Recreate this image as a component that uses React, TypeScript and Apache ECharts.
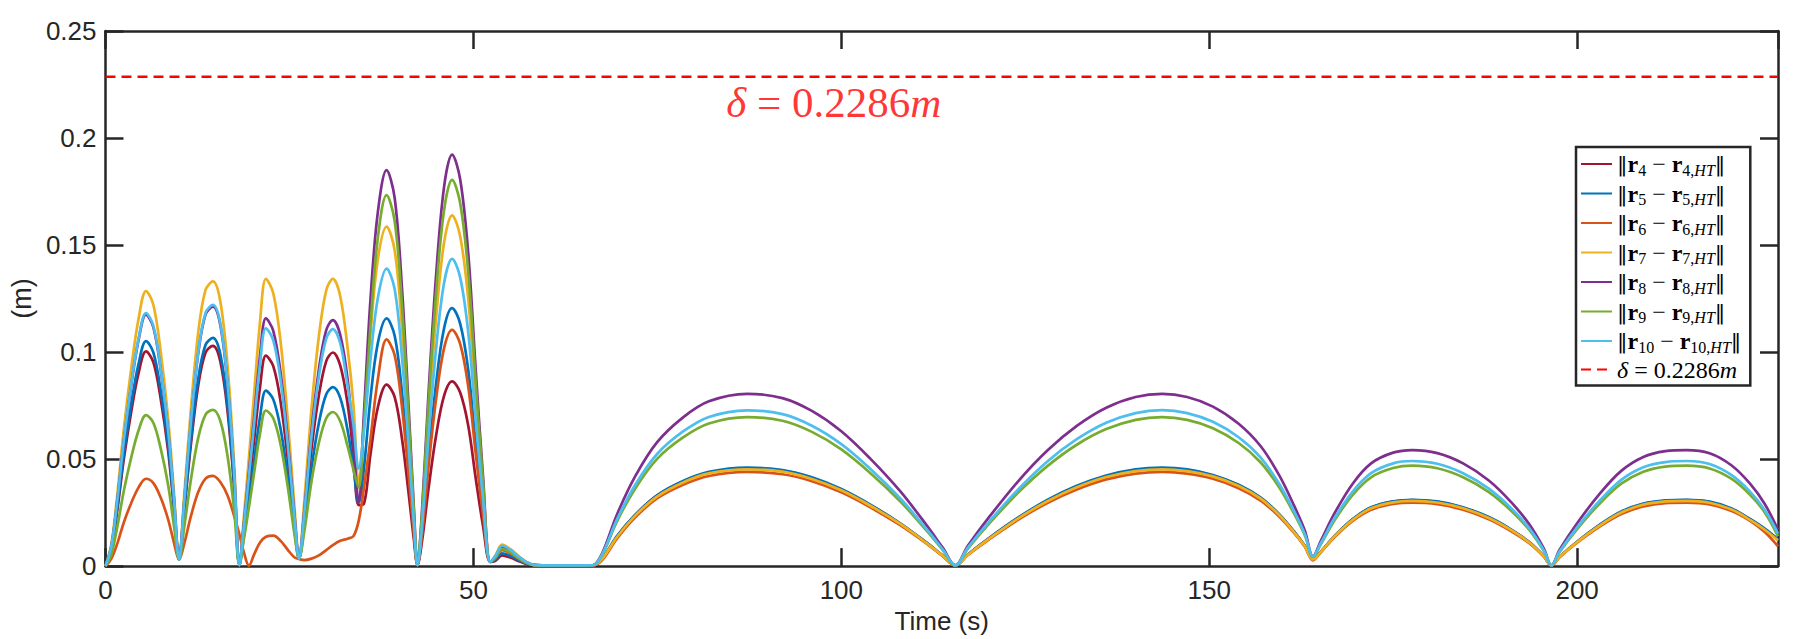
import React, { useEffect, useRef } from "react";
import * as echarts from "echarts";

// ---------- data ----------
const time = [
  0, 0.8, 1.6, 2.5, 3.5, 4.5, 5.5, 6.5, 7.5, 8.5, 9.3, 10.0,
  10.7, 11.6, 12.6, 13.6, 14.6, 15.6, 16.6, 17.5, 18.2,
  18.8, 19.5, 20.2, 21.0, 21.8, 22.8, 23.8, 24.8, 25.7, 26.3,
  27.0, 28.0, 29.0, 30.0, 30.9, 31.9, 32.9, 33.7, 34.4,
  35.1, 36.0, 37.0, 38.2, 39.3, 40.3, 41.2, 41.9, 42.4,
  43.0, 43.9, 44.9, 46.0, 47.1, 48.2, 49.3, 50.3, 51.3, 52.3,
  53.0, 53.9, 55.0, 56.2, 57.2, 58.2, 61.0, 64.0,
  66.2, 67.5, 69.5, 72, 75, 78.5, 82, 87.2, 92, 96, 100, 104, 108, 111.5, 113.8, 115.5,
  117.2, 120, 124, 128, 132, 136, 140, 143.6, 147, 150.5, 154, 157, 159.5, 161.5, 163, 164.1,
  165.2, 167, 169.5, 172, 175, 177.6, 181, 184.5, 188, 191, 193.5, 195.5, 196.5,
  197.6, 200, 203, 206, 209, 212, 214.9, 218, 221, 223.5, 225.5, 227.3,
];

const r4 = [
  0, 0.008, 0.0261, 0.0502, 0.0722, 0.0903, 0.1003, 0.0953, 0.0782, 0.0542, 0.0271, 0.003,
  0.0257, 0.0566, 0.0844, 0.0998, 0.1029, 0.0957, 0.072, 0.036, 0.0005,
  0.0167, 0.0374, 0.059, 0.0836, 0.0983, 0.0934, 0.0767, 0.0492, 0.0197, 0.0035,
  0.022, 0.0549, 0.0798, 0.0958, 0.0998, 0.0938, 0.0758, 0.052, 0.0285,
  0.029, 0.052, 0.074, 0.0848, 0.0789, 0.0594, 0.0339, 0.0127, 0.0005,
  0.0112, 0.0362, 0.0604, 0.0794, 0.0863, 0.0811, 0.0656, 0.0414, 0.019, 0.002,
  0.0025, 0.005, 0.004, 0.0023, 0.001, 0.0005, 0.0003, 0.0003,
  0.0004, 0.0034, 0.0136, 0.0239, 0.033, 0.0395, 0.0437, 0.0457, 0.0446, 0.0412, 0.0358, 0.0284, 0.0199, 0.0111, 0.0048, 0.0003,
  0.0054, 0.0128, 0.0224, 0.0307, 0.0372, 0.042, 0.0449, 0.0457, 0.0449, 0.0423, 0.0378, 0.0318, 0.0241, 0.0162, 0.0094, 0.0032,
  0.0068, 0.0139, 0.0219, 0.0273, 0.0301, 0.0308, 0.03, 0.0273, 0.0227, 0.017, 0.0111, 0.0045, 0.0003,
  0.0043, 0.0114, 0.019, 0.0253, 0.029, 0.0305, 0.0308, 0.0299, 0.0267, 0.0219, 0.0172, 0.0122,
];

const r5 = [
  0, 0.0084, 0.0273, 0.0526, 0.0757, 0.0946, 0.1051, 0.0998, 0.082, 0.0568, 0.0284, 0.003,
  0.0267, 0.0586, 0.0874, 0.1034, 0.1066, 0.0991, 0.0746, 0.0373, 0.0005,
  0.0139, 0.0312, 0.0492, 0.0697, 0.082, 0.0779, 0.064, 0.041, 0.0164, 0.0035,
  0.0184, 0.046, 0.0669, 0.0803, 0.0836, 0.0786, 0.0635, 0.046, 0.0295,
  0.045, 0.078, 0.104, 0.1157, 0.1076, 0.081, 0.0463, 0.0174, 0.0005,
  0.0157, 0.0506, 0.0844, 0.1109, 0.1205, 0.1133, 0.0916, 0.0578, 0.0265, 0.002,
  0.003, 0.006, 0.0048, 0.0027, 0.0012, 0.0005, 0.0003, 0.0003,
  0.0004, 0.0034, 0.014, 0.024, 0.0332, 0.0398, 0.044, 0.046, 0.0449, 0.0415, 0.036, 0.0286, 0.02, 0.0112, 0.0049, 0.0003,
  0.0054, 0.0129, 0.0226, 0.0309, 0.0375, 0.0423, 0.0452, 0.046, 0.0452, 0.0426, 0.038, 0.032, 0.0243, 0.0163, 0.0094, 0.0032,
  0.0069, 0.014, 0.022, 0.0275, 0.0303, 0.031, 0.0302, 0.0275, 0.0229, 0.0172, 0.0112, 0.0046, 0.0003,
  0.0043, 0.0114, 0.0192, 0.0255, 0.0292, 0.0307, 0.031, 0.0301, 0.0269, 0.022, 0.0175, 0.0125,
];

const r6 = [
  0, 0.0035, 0.0105, 0.0205, 0.0295, 0.0368, 0.0408, 0.0388, 0.032, 0.022, 0.011, 0.003,
  0.0105, 0.0232, 0.0346, 0.0409, 0.0422, 0.0393, 0.0329, 0.0232, 0.0148,
  0.0065, 0.0002, 0.0055, 0.011, 0.0137, 0.0142, 0.0118, 0.0075, 0.004, 0.0033,
  0.0028, 0.0035, 0.005, 0.0075, 0.0098, 0.0118, 0.0128, 0.014, 0.021,
  0.036, 0.059, 0.087, 0.1059, 0.0985, 0.0741, 0.0424, 0.0159, 0.0005,
  0.0144, 0.0464, 0.0773, 0.1016, 0.1104, 0.1038, 0.0839, 0.053, 0.0243, 0.002,
  0.004, 0.0075, 0.006, 0.0034, 0.0015, 0.0005, 0.0003, 0.0003,
  0.0003, 0.0028, 0.0128, 0.0228, 0.0317, 0.038, 0.0421, 0.044, 0.0429, 0.0397, 0.0345, 0.0274, 0.0191, 0.0107, 0.0046, 0.0003,
  0.0052, 0.0123, 0.0216, 0.0295, 0.0358, 0.0405, 0.0432, 0.044, 0.0432, 0.0408, 0.0364, 0.0306, 0.0232, 0.0156, 0.009, 0.0027,
  0.0066, 0.0134, 0.0211, 0.0263, 0.029, 0.0296, 0.0289, 0.0263, 0.0219, 0.0164, 0.0107, 0.0044, 0.0003,
  0.0041, 0.0109, 0.0183, 0.0243, 0.0279, 0.0294, 0.0296, 0.0288, 0.0257, 0.0211, 0.0159, 0.0092,
];

const r7 = [
  0, 0.0103, 0.0334, 0.0643, 0.0925, 0.1157, 0.1285, 0.1221, 0.1002, 0.0694, 0.0347, 0.003,
  0.0333, 0.0732, 0.1091, 0.129, 0.133, 0.1237, 0.0931, 0.0466, 0.0005,
  0.0228, 0.051, 0.0805, 0.1141, 0.1342, 0.1275, 0.1047, 0.0671, 0.0268, 0.0035,
  0.0295, 0.0738, 0.1074, 0.1288, 0.1342, 0.1261, 0.102, 0.075, 0.038,
  0.066, 0.108, 0.143, 0.1586, 0.1475, 0.111, 0.0634, 0.0238, 0.0005,
  0.0213, 0.0688, 0.1147, 0.1508, 0.1639, 0.1541, 0.1246, 0.0787, 0.0361, 0.002,
  0.005, 0.01, 0.008, 0.0045, 0.002, 0.0006, 0.0003, 0.0003,
  0.0004, 0.0034, 0.0135, 0.0236, 0.0326, 0.0391, 0.0433, 0.0452, 0.0441, 0.0407, 0.0354, 0.0281, 0.0197, 0.011, 0.0048, 0.0003,
  0.0053, 0.0126, 0.0222, 0.0303, 0.0368, 0.0416, 0.0444, 0.0452, 0.0444, 0.0419, 0.0374, 0.0315, 0.0239, 0.016, 0.0093, 0.0031,
  0.0067, 0.0138, 0.0216, 0.027, 0.0298, 0.0305, 0.0297, 0.027, 0.0225, 0.0169, 0.011, 0.0045, 0.0003,
  0.0042, 0.0112, 0.0188, 0.025, 0.0287, 0.0302, 0.0305, 0.0296, 0.0264, 0.0216, 0.017, 0.012,
];

const r8 = [
  0, 0.0094, 0.0306, 0.0588, 0.0846, 0.1058, 0.1175, 0.1116, 0.0917, 0.0635, 0.0317, 0.003,
  0.0303, 0.0667, 0.0994, 0.1176, 0.1212, 0.1127, 0.0848, 0.0424, 0.0005,
  0.0197, 0.044, 0.0694, 0.0983, 0.1157, 0.1099, 0.0902, 0.0579, 0.0231, 0.0035,
  0.0253, 0.0632, 0.0919, 0.1103, 0.1149, 0.108, 0.0873, 0.057, 0.03,
  0.07, 0.124, 0.165, 0.185, 0.172, 0.1295, 0.074, 0.0278, 0.0005,
  0.025, 0.0807, 0.1345, 0.1768, 0.1922, 0.1807, 0.1461, 0.0923, 0.0423, 0.002,
  0.0045, 0.009, 0.0072, 0.0041, 0.0018, 0.0006, 0.0003, 0.0003,
  0.0004, 0.006, 0.024, 0.042, 0.058, 0.0695, 0.077, 0.0805, 0.0785, 0.0725, 0.063, 0.05, 0.035, 0.0195, 0.0085, 0.0003,
  0.0095, 0.0225, 0.0395, 0.054, 0.0655, 0.074, 0.079, 0.0805, 0.079, 0.0745, 0.0665, 0.056, 0.0425, 0.0285, 0.0165, 0.0045,
  0.012, 0.0245, 0.0385, 0.048, 0.053, 0.0542, 0.0528, 0.048, 0.04, 0.03, 0.0195, 0.008, 0.0003,
  0.0075, 0.02, 0.0335, 0.0445, 0.051, 0.0537, 0.0542, 0.0527, 0.047, 0.0385, 0.029, 0.017,
];

const r9 = [
  0, 0.0056, 0.0183, 0.0353, 0.0508, 0.0635, 0.0705, 0.067, 0.055, 0.0381, 0.019, 0.003,
  0.0183, 0.0402, 0.0599, 0.0708, 0.073, 0.0679, 0.0511, 0.0256, 0.0005,
  0.0124, 0.0276, 0.0436, 0.0618, 0.0727, 0.0691, 0.0567, 0.0364, 0.0145, 0.0035,
  0.0158, 0.0396, 0.0576, 0.0691, 0.072, 0.0677, 0.056, 0.045, 0.0367,
  0.065, 0.112, 0.153, 0.1733, 0.1612, 0.1213, 0.0693, 0.026, 0.0005,
  0.0235, 0.0758, 0.1263, 0.166, 0.1804, 0.1696, 0.1371, 0.0866, 0.0397, 0.002,
  0.004, 0.008, 0.0064, 0.0036, 0.0016, 0.0005, 0.0003, 0.0003,
  0.0004, 0.0052, 0.0208, 0.0363, 0.0502, 0.0601, 0.0666, 0.0696, 0.0679, 0.0627, 0.0545, 0.0433, 0.0303, 0.0169, 0.0074, 0.0003,
  0.0082, 0.0195, 0.0342, 0.0467, 0.0567, 0.064, 0.0683, 0.0696, 0.0683, 0.0644, 0.0575, 0.0484, 0.0368, 0.0247, 0.0143, 0.0045,
  0.0104, 0.0212, 0.0333, 0.0415, 0.0458, 0.0469, 0.0457, 0.0415, 0.0346, 0.026, 0.0169, 0.0069, 0.0003,
  0.0065, 0.0173, 0.029, 0.0385, 0.0441, 0.0465, 0.0469, 0.0456, 0.0407, 0.0333, 0.0251, 0.014,
];

const r10 = [
  0, 0.0095, 0.0307, 0.0591, 0.0851, 0.1064, 0.1182, 0.1123, 0.0922, 0.0638, 0.0319, 0.003,
  0.0305, 0.0671, 0.1, 0.1183, 0.122, 0.1135, 0.0854, 0.0427, 0.0005,
  0.0189, 0.0422, 0.0667, 0.0944, 0.1111, 0.1055, 0.0867, 0.0556, 0.0222, 0.0035,
  0.0244, 0.0609, 0.0886, 0.1063, 0.1107, 0.1041, 0.0841, 0.066, 0.0455,
  0.062, 0.096, 0.125, 0.139, 0.1293, 0.0973, 0.0556, 0.0209, 0.0005,
  0.0187, 0.0603, 0.1005, 0.132, 0.1435, 0.1349, 0.1091, 0.0689, 0.0316, 0.002,
  0.0048, 0.0095, 0.0076, 0.0043, 0.0019, 0.0006, 0.0003, 0.0003,
  0.0004, 0.0054, 0.0217, 0.038, 0.0525, 0.0629, 0.0697, 0.0728, 0.071, 0.0656, 0.057, 0.0453, 0.0317, 0.0176, 0.0077, 0.0003,
  0.0086, 0.0204, 0.0357, 0.0489, 0.0593, 0.067, 0.0715, 0.0729, 0.0715, 0.0674, 0.0602, 0.0507, 0.0385, 0.0258, 0.0149, 0.0045,
  0.0109, 0.0222, 0.0348, 0.0434, 0.048, 0.0491, 0.0478, 0.0434, 0.0362, 0.0272, 0.0176, 0.0072, 0.0003,
  0.0068, 0.0181, 0.0303, 0.0403, 0.0462, 0.0486, 0.0491, 0.0477, 0.0425, 0.0348, 0.0262, 0.0152,
];

const deltaValue = 0.2286;
const deltaLabelAt = [84.3, 0.2168];
const xMin = 0;
const xMax = 227.3;
const xInterval = 50;
const yMin = 0;
const yMax = 0.25;
const yInterval = 0.05;

const seriesIndices = [4, 5, 6, 7, 8, 9, 10];
const seriesValues = [r4, r5, r6, r7, r8, r9, r10];
const seriesColors = ["#A2142F", "#0072BD", "#D95319", "#EDB120", "#7E2F8E", "#77AC30", "#4DBEEE"];
const deltaName = "δ = 0.2286m";

// ---------- chart ----------
const axisColor = "#262626";
const sansFont = "'Liberation Sans', Arial, Helvetica, sans-serif";
const serifFont = "'Liberation Serif', 'Times New Roman', serif";

const normName = (n: number) => `‖r${n} − r${n},HT‖`;
const normRich = (n: number) =>
  `{bar|‖}{r|r}{sub|${n}}{op| − }{r|r}{sub|${n},}{subit|HT}{bar|‖}`;

function buildOption() {
  const lineSeries: any[] = seriesValues.map((vals, k) => ({
    name: normName(seriesIndices[k]),
    type: "line",
    data: time.map((t, i) => [t, vals[i]]),
    showSymbol: false,
    symbol: "none",
    smooth: 0.35,
    color: seriesColors[k],
    lineStyle: { color: seriesColors[k], width: 2.7 },
    emphasis: { disabled: true },
    z: 2 + k,
  }));

  lineSeries.push({
    name: deltaName,
    type: "line",
    data: [
      [xMin, deltaValue],
      [xMax, deltaValue],
    ],
    showSymbol: false,
    symbol: "none",
    color: "#FF0000",
    lineStyle: { color: "#FF0000", width: 2.5, type: [10, 6] },
    emphasis: { disabled: true },
    z: 10,
  });

  lineSeries.push({
    name: "deltaText",
    type: "scatter",
    data: [deltaLabelAt],
    symbol: "circle",
    symbolSize: 1,
    itemStyle: { color: "rgba(0,0,0,0)" },
    silent: true,
    z: 11,
    label: {
      show: true,
      position: "right",
      distance: 0,
      formatter: "{it|δ}{op| = 0.2286}{it|m}",
      rich: {
        it: { fontFamily: serifFont, fontStyle: "italic", fontSize: 43, color: "#FF0000" },
        op: { fontFamily: serifFont, fontSize: 43, color: "#FF0000" },
      },
    },
  });

  const legendRichMap: Record<string, string> = {};
  seriesIndices.forEach((n) => (legendRichMap[normName(n)] = normRich(n)));
  legendRichMap[deltaName] = "{it|δ}{op| = 0.2286}{it|m}";

  const commonX = {
    type: "value",
    min: xMin,
    max: xMax,
    interval: xInterval,
    splitLine: { show: false },
    axisLine: { show: true, onZero: false, lineStyle: { color: axisColor, width: 2.5 } },
    axisTick: { show: true, inside: true, length: 18, lineStyle: { color: axisColor, width: 2.5 } },
  };
  const commonY = {
    type: "value",
    min: yMin,
    max: yMax,
    interval: yInterval,
    splitLine: { show: false },
    axisLine: { show: true, onZero: false, lineStyle: { color: axisColor, width: 2.5 } },
    axisTick: { show: true, inside: true, length: 18, lineStyle: { color: axisColor, width: 2.5 } },
  };

  return {
    animation: false,
    backgroundColor: "#ffffff",
    grid: { left: 100, top: 31, width: 1678, height: 553, containLabel: false },
    xAxis: [
      {
        ...commonX,
        position: "bottom",
        axisLabel: {
          show: true,
          margin: 11,
          color: axisColor,
          fontSize: 26,
          fontFamily: sansFont,
          showMaxLabel: false,
          formatter: (v: number) => (Math.abs(v % xInterval) < 1e-9 ? String(v) : ""),
        },
        name: "Time (s)",
        nameLocation: "middle",
        nameGap: 27,
        nameTextStyle: { color: axisColor, fontSize: 26, fontFamily: sansFont },
      },
      { ...commonX, position: "top", axisLabel: { show: false } },
    ],
    yAxis: [
      {
        ...commonY,
        position: "left",
        axisLabel: { show: true, margin: 9, color: axisColor, fontSize: 26, fontFamily: sansFont },
        name: "(m)",
        nameLocation: "middle",
        nameRotate: 90,
        nameGap: 64,
        nameTextStyle: { color: axisColor, fontSize: 27, fontFamily: sansFont },
      },
      { ...commonY, position: "right", axisLabel: { show: false } },
    ],
    legend: {
      data: [...seriesIndices.map((n) => normName(n)), deltaName],
      orient: "vertical",
      left: 1576,
      top: 147,
      padding: [3, 9, 3, 4],
      itemGap: 1.5,
      itemWidth: 31,
      itemHeight: 12,
      itemStyle: { opacity: 0 },
      backgroundColor: "#ffffff",
      borderColor: axisColor,
      borderWidth: 2.5,
      borderRadius: 0,
      selectedMode: false,
      formatter: (name: string) => legendRichMap[name] ?? name,
      textStyle: {
        color: "#000000",
        lineHeight: 26,
        rich: {
          bar: { fontFamily: "'DejaVu Serif', serif", fontSize: 21, lineHeight: 26, color: "#000" },
          r: { fontFamily: serifFont, fontWeight: "bold", fontSize: 24, lineHeight: 26, color: "#000" },
          sub: { fontFamily: serifFont, fontSize: 16, lineHeight: 26, padding: [12, 0, 0, 0], color: "#000" },
          subit: {
            fontFamily: serifFont,
            fontStyle: "italic",
            fontSize: 16,
            lineHeight: 26,
            padding: [12, 0, 0, 0],
            color: "#000",
          },
          op: { fontFamily: serifFont, fontSize: 24, lineHeight: 26, color: "#000" },
          it: { fontFamily: serifFont, fontStyle: "italic", fontSize: 24, lineHeight: 26, color: "#000" },
        },
      },
    },
    series: lineSeries,
  };
}

export default function App() {
  const ref = useRef<HTMLDivElement>(null);
  useEffect(() => {
    if (!ref.current) return;
    const chart = echarts.init(ref.current, null, { renderer: "svg" });
    chart.setOption(buildOption() as any);
    return () => chart.dispose();
  }, []);
  return (
    <div
      ref={ref}
      style={{ position: "absolute", left: 0, top: 0, width: 1794, height: 639, background: "#fff" }}
    />
  );
}
